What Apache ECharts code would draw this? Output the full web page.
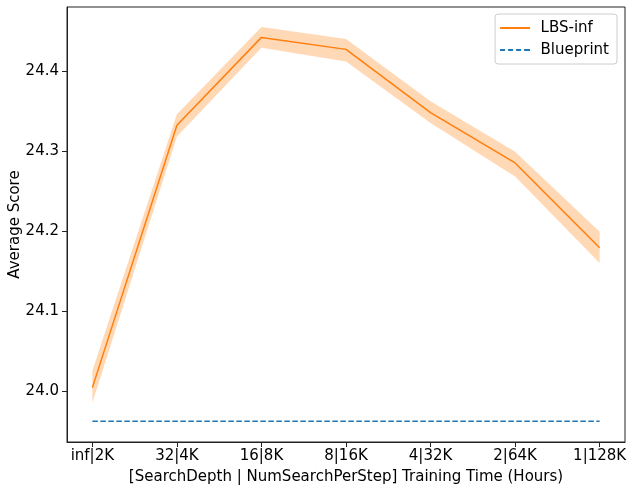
<!DOCTYPE html>
<html>
<head>
<meta charset="utf-8">
<script src="https://cdn.jsdelivr.net/npm/echarts@6/dist/echarts.min.js"></script>
<style>
  html, body { margin: 0; padding: 0; background: #fff; }
  #chart { width: 632px; height: 492px; }
</style>
</head>
<body>
<div id="chart"></div>
<script>
// x categories: [SearchDepth | NumSearchPerStep]
const categories = ['inf|2K', '32|4K', '16|8K', '8|16K', '4|32K', '2|64K', '1|128K']
// LBS-inf mean score and its shaded band
const lbsMean = [24.004, 24.332, 24.442, 24.427, 24.348, 24.285, 24.179]
const lbsLow = [23.985, 24.318, 24.429, 24.412, 24.335, 24.268, 24.160]
const lbsHigh = [24.025, 24.346, 24.455, 24.440, 24.362, 24.299, 24.199]
// Blueprint baseline (constant)
const blueprint = [23.962, 23.962, 23.962, 23.962, 23.962, 23.962, 23.962]
const yTicks = [24.0, 24.1, 24.2, 24.3, 24.4]

const FONT = 'DejaVu Sans'
const ORANGE = '#ff7f0e'
const BLUE = '#1f77b4'

const idx = categories.map((c, i) => i)
const pairs = arr => arr.map((v, i) => [i, v])

// legend icons: plain line and dashed line
const ICON_SOLID = 'path://M0,0 h30 v2 h-30 z'
const ICON_DASH = 'path://M0,0 h5 v2 h-5 z M8,0 h5 v2 h-5 z M16,0 h5 v2 h-5 z M24,0 h6 v2 h-6 z'

const chart = echarts.init(document.getElementById('chart'))

function renderBand(params, api) {
  if (params.dataIndex !== 0) return
  const pts = []
  lbsHigh.forEach((v, i) => pts.push(api.coord([i, v])))
  for (let i = lbsLow.length - 1; i >= 0; i--) pts.push(api.coord([i, lbsLow[i]]))
  return {
    type: 'polygon',
    shape: { points: pts },
    style: { fill: ORANGE, opacity: 0.3 }
  }
}

const axisCommon = {
  axisLine: { show: true, onZero: false, lineStyle: { color: '#222', width: 1 } },
  splitLine: { show: false },
  nameMoveOverlap: false
}

const option = {
  animation: false,
  textStyle: { fontFamily: FONT },
  grid: {
    left: 67, right: 7, top: 7, bottom: 50,
    outerBoundsMode: 'none',
    containLabel: false,
    show: true, borderColor: '#222', borderWidth: 1, backgroundColor: 'transparent'
  },
  legend: {
    data: [
      { name: 'LBS-inf', icon: ICON_SOLID },
      { name: 'Blueprint', icon: ICON_DASH }
    ],
    orient: 'vertical',
    right: 15,
    top: 14,
    padding: [6, 8, 6, 5],
    itemWidth: 31,
    itemHeight: 2,
    itemGap: 6,
    borderColor: '#ccc',
    borderWidth: 1,
    borderRadius: 3,
    textStyle: { fontFamily: FONT, fontSize: 15, lineHeight: 16, color: '#000', padding: [0, 0, 0, 5] }
  },
  xAxis: Object.assign({}, axisCommon, {
    type: 'value',
    min: -0.3,
    max: 6.3,
    name: '[SearchDepth | NumSearchPerStep] Training Time (Hours)',
    nameLocation: 'middle',
    nameGap: 28,
    nameTextStyle: { fontFamily: FONT, fontSize: 15, color: '#000' },
    axisTick: { show: true, inside: false, length: 5, customValues: idx, lineStyle: { color: '#222' } },
    axisLabel: {
      customValues: idx,
      formatter: v => categories[Math.round(v)],
      fontFamily: FONT, fontSize: 15, color: '#000', margin: 7
    }
  }),
  yAxis: Object.assign({}, axisCommon, {
    type: 'value',
    min: 23.936,
    max: 24.48,
    name: 'Average Score',
    nameLocation: 'middle',
    nameGap: 44,
    nameTextStyle: { fontFamily: FONT, fontSize: 15, color: '#000' },
    axisTick: { show: true, inside: false, length: 5, customValues: yTicks, lineStyle: { color: '#222' } },
    axisLabel: {
      customValues: yTicks,
      formatter: v => v.toFixed(1),
      fontFamily: FONT, fontSize: 15, color: '#000', margin: 8
    }
  }),
  series: [
    {
      name: 'band',
      type: 'custom',
      renderItem: renderBand,
      data: pairs(lbsMean),
      silent: true,
      clip: true,
      z: 1
    },
    {
      name: 'LBS-inf',
      type: 'line',
      data: pairs(lbsMean),
      symbol: 'none',
      lineStyle: { color: ORANGE, width: 1.5 },
      itemStyle: { color: ORANGE },
      z: 3
    },
    {
      name: 'Blueprint',
      type: 'line',
      data: pairs(blueprint),
      symbol: 'none',
      lineStyle: { color: BLUE, width: 1.5, type: [5.5, 2.5] },
      itemStyle: { color: BLUE },
      z: 3
    }
  ]
}

chart.setOption(option)
</script>
</body>
</html>
